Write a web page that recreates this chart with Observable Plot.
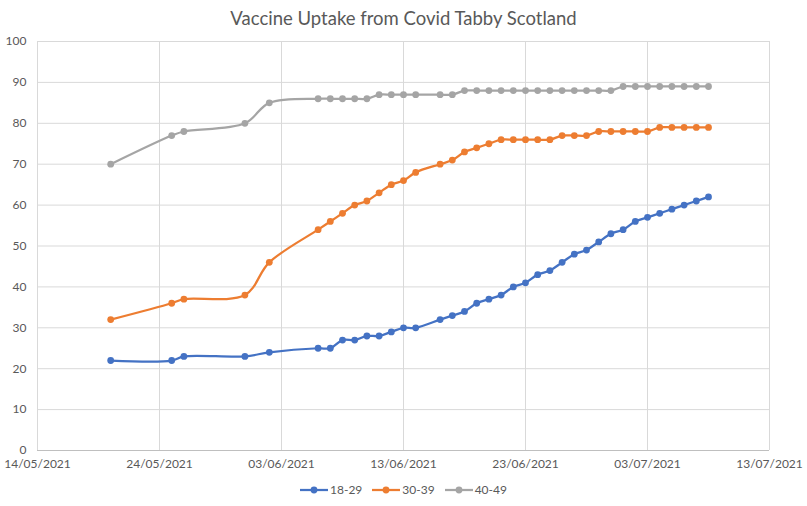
<!DOCTYPE html>
<html>
<head>
<meta charset="utf-8">
<script src="https://cdn.jsdelivr.net/npm/d3@7"></script>
<script src="https://cdn.jsdelivr.net/npm/@observablehq/plot@0.6"></script>
<style>
  body { margin: 0; background: #fff; font-family: Lato, "Open Sans", sans-serif; }
  #wrap { width: 807px; height: 506px; position: relative; }
  #title { position: absolute; top: 0; left: 0; width: 807px; height: 36px; line-height: 36px; text-align: center; font-size: 18.5px; color: #595959; }
  #chart { position: absolute; top: 26px; left: 0; }
  #legend { position: absolute; top: 482px; left: 0; width: 807px; display: flex; justify-content: center; gap: 10px; font-size: 12px; color: #595959; }
  .item { display: flex; align-items: center; gap: 2px; }
  svg.sw { display: block; }
</style>
</head>
<body>
<div id="wrap">
  <div id="chart"></div>
  <div id="title">Vaccine Uptake from Covid Tabby Scotland</div>
  <div id="legend"></div>
</div>
<script>
const dates = ["2021-05-20","2021-05-25","2021-05-26","2021-05-31","2021-06-02",
  "2021-06-06","2021-06-07","2021-06-08","2021-06-09","2021-06-10","2021-06-11","2021-06-12","2021-06-13","2021-06-14",
  "2021-06-16","2021-06-17","2021-06-18","2021-06-19","2021-06-20","2021-06-21","2021-06-22","2021-06-23","2021-06-24",
  "2021-06-25","2021-06-26","2021-06-27","2021-06-28","2021-06-29","2021-06-30","2021-07-01","2021-07-02","2021-07-03",
  "2021-07-04","2021-07-05","2021-07-06","2021-07-07","2021-07-08"];
const s1829 = [22,22,23,23,24, 25,25,27,27,28,28,29,30,30, 32,33,34,36,37,38,40,41,43, 44,46,48,49,51,53,54,56,57, 58,59,60,61,62];
const s3039 = [32,36,37,38,46, 54,56,58,60,61,63,65,66,68, 70,71,73,74,75,76,76,76,76, 76,77,77,77,78,78,78,78,78, 79,79,79,79,79];
const s4049 = [70,77,78,80,85, 86,86,86,86,86,87,87,87,87, 87,87,88,88,88,88,88,88,88, 88,88,88,88,88,88,89,89,89, 89,89,89,89,89];
const seriesNames = ["18-29","30-39","40-49"];
const seriesColors = ["#4472C4","#ED7D31","#A5A5A5"];
const xTicks = ["2021-05-14","2021-05-24","2021-06-03","2021-06-13","2021-06-23","2021-07-03","2021-07-13"];
const yTicks = [0,10,20,30,40,50,60,70,80,90,100];

const parse = d3.utcParse("%Y-%m-%d");
const seriesValues = [s1829, s3039, s4049];
const rows = [];
seriesNames.forEach((name, i) => {
  dates.forEach((d, j) => rows.push({date: parse(d), value: seriesValues[i][j], series: name}));
});
const tickDates = xTicks.map(parse);
const fmt = d3.utcFormat("%d/%m/%Y");

const chart = Plot.plot({
  width: 807,
  height: 450,
  marginLeft: 37,
  marginRight: 38,
  marginTop: 15,
  marginBottom: 26,
  style: { fontFamily: "Lato, 'Open Sans', sans-serif", fontSize: "12px", color: "#595959", background: "transparent", overflow: "visible" },
  x: { type: "utc", domain: [tickDates[0], tickDates[tickDates.length - 1]], ticks: tickDates, tickFormat: fmt, label: null },
  y: { domain: [0, 100], ticks: yTicks, label: null },
  color: { domain: seriesNames, range: seriesColors },
  marks: [
    Plot.gridX(tickDates, { stroke: "#D9D9D9", strokeOpacity: 1, strokeWidth: 1 }),
    Plot.gridY(yTicks, { stroke: "#D9D9D9", strokeOpacity: 1, strokeWidth: 1 }),
    Plot.ruleY([0], { stroke: "#BFBFBF", strokeWidth: 1 }),
    Plot.axisX(tickDates, { tickSize: 0, tickPadding: 9, tickFormat: fmt, fill: "#595959" }),
    Plot.axisY(yTicks, { tickSize: 0, tickPadding: 11, fill: "#595959" }),
    Plot.line(rows, { x: "date", y: "value", z: "series", stroke: "series", strokeWidth: 2.25, curve: "catmull-rom" }),
    Plot.dot(rows, { x: "date", y: "value", fill: "series", r: 3.4, stroke: null })
  ]
});
document.getElementById("chart").appendChild(chart);

const legend = document.getElementById("legend");
seriesNames.forEach((name, i) => {
  const item = document.createElement("div");
  item.className = "item";
  item.innerHTML = `<svg class="sw" width="28" height="10"><line x1="0" x2="28" y1="5" y2="5" stroke="${seriesColors[i]}" stroke-width="2.25"/><circle cx="14" cy="5" r="3.4" fill="${seriesColors[i]}"/></svg><span>${name}</span>`;
  legend.appendChild(item);
});
</script>
</body>
</html>
